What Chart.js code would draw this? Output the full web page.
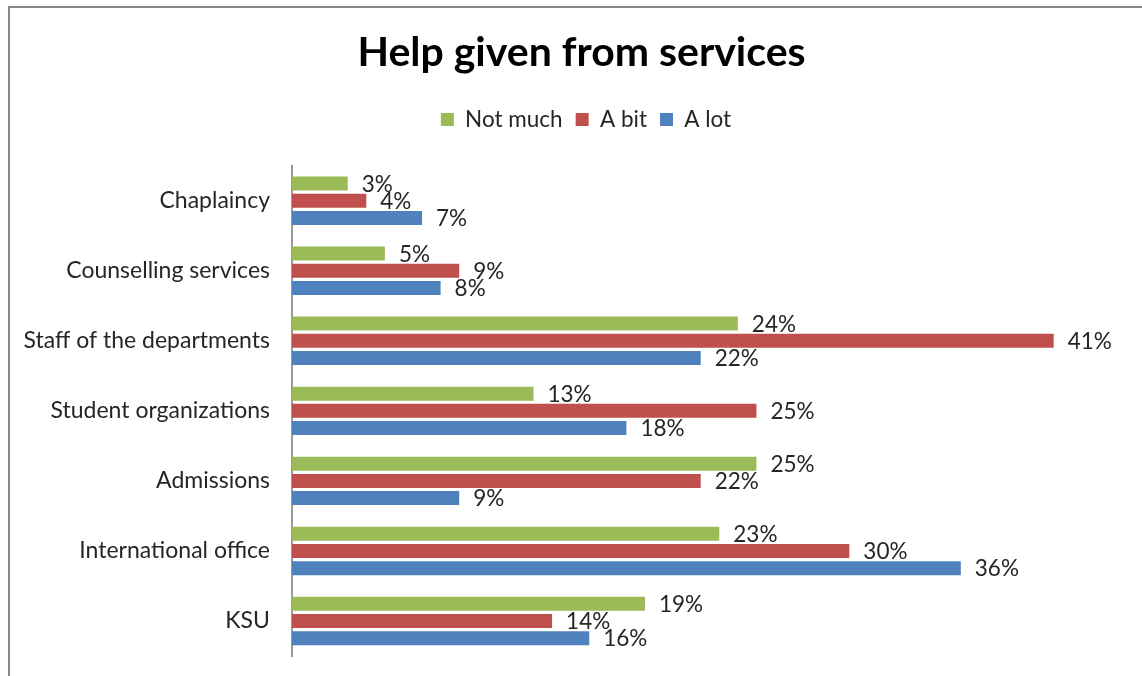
<!DOCTYPE html>
<html>
<head>
<meta charset="utf-8">
<script src="https://cdn.jsdelivr.net/npm/chart.js@4/dist/chart.umd.min.js"></script>
<style>
  html, body { margin: 0; padding: 0; background: #fff; overflow: hidden; }
  #wrap { position: absolute; left: 0; top: 0; width: 1162px; height: 676px; }
</style>
</head>
<body>
<div id="wrap"><canvas id="chart" width="1162" height="676"></canvas></div>
<script>
// services asked about in the survey (top to bottom)
const services = ['Chaplaincy', 'Counselling services', 'Staff of the departments',
  'Student organizations', 'Admissions', 'International office', 'KSU'];

// share of answers per service, in percent
const notMuch = [3, 5, 24, 13, 25, 23, 19];
const aBit    = [4, 9, 41, 25, 22, 30, 14];
const aLot    = [7, 8, 22, 18, 9, 36, 16];

const seriesNames = ['Not much', 'A bit', 'A lot'];
const seriesColors = ['#9bbb59', '#c0504d', '#4f81bd'];

const fontFamily = 'Lato, "Open Sans", sans-serif';

// grey frame around the whole chart
const framePlugin = {
  id: 'frame',
  beforeDraw(chart) {
    const c = chart.ctx;
    c.save();
    c.strokeStyle = '#878787';
    c.lineWidth = 2;
    c.strokeRect(9, 7, 1400, 900);
    c.restore();
  }
};

// extra room between legend and bars, and title/legend nudged right
const legendGap = {
  id: 'legendGap',
  beforeInit(chart) {
    const fit = chart.legend.fit;
    chart.legend.fit = function () {
      fit.bind(chart.legend)();
      this.height += 25;
    };
  },
  afterLayout(chart) {
    chart.titleBlock.left += 7.5;
    chart.titleBlock.right += 7.5;
    chart.legend.left += 12;
    chart.legend.right += 12;
  }
};

// percentage written just right of every bar
const valueLabels = {
  id: 'valueLabels',
  afterDatasetsDraw(chart) {
    const c = chart.ctx;
    c.save();
    c.font = '22.5px ' + fontFamily;
    c.fillStyle = '#262626';
    c.textAlign = 'left';
    c.textBaseline = 'middle';
    chart.data.datasets.forEach((ds, i) => {
      const meta = chart.getDatasetMeta(i);
      meta.data.forEach((bar, j) => {
        c.fillText(ds.data[j] + '%', bar.x + 14, bar.y + 1);
      });
    });
    c.restore();
  }
};

const ctx = document.getElementById('chart').getContext('2d');

new Chart(ctx, {
  type: 'bar',
  data: {
    labels: services,
    datasets: [notMuch, aBit, aLot].map((vals, i) => ({
      label: seriesNames[i],
      data: vals,
      backgroundColor: seriesColors[i],
      borderWidth: 0,
      categoryPercentage: 0.737,
      barPercentage: 0.814
    }))
  },
  options: {
    indexAxis: 'y',
    responsive: false,
    animation: false,
    layout: { padding: { left: 20, right: 34, top: 8, bottom: 20 } },
    plugins: {
      title: {
        display: true,
        text: 'Help given from services',
        color: '#000',
        font: { family: fontFamily, size: 41, weight: 'bold' },
        padding: { top: 20, bottom: 18 }
      },
      legend: {
        display: true,
        position: 'top',
        labels: {
          color: '#262626',
          font: { family: fontFamily, size: 22.5 },
          boxWidth: 13,
          boxHeight: 13,
          padding: 13
        }
      },
      tooltip: { enabled: false }
    },
    scales: {
      x: {
        display: false,
        min: 0,
        max: 45
      },
      y: {
        grid: { display: false, drawTicks: true, tickLength: 22 },
        border: { display: true, color: '#9a9a9a', width: 2 },
        ticks: {
          color: '#262626',
          font: { family: fontFamily, size: 23 },
          padding: 0
        },
        afterFit(scale) { scale.width = 272; }
      }
    }
  },
  plugins: [framePlugin, legendGap, valueLabels]
});
</script>
</body>
</html>
